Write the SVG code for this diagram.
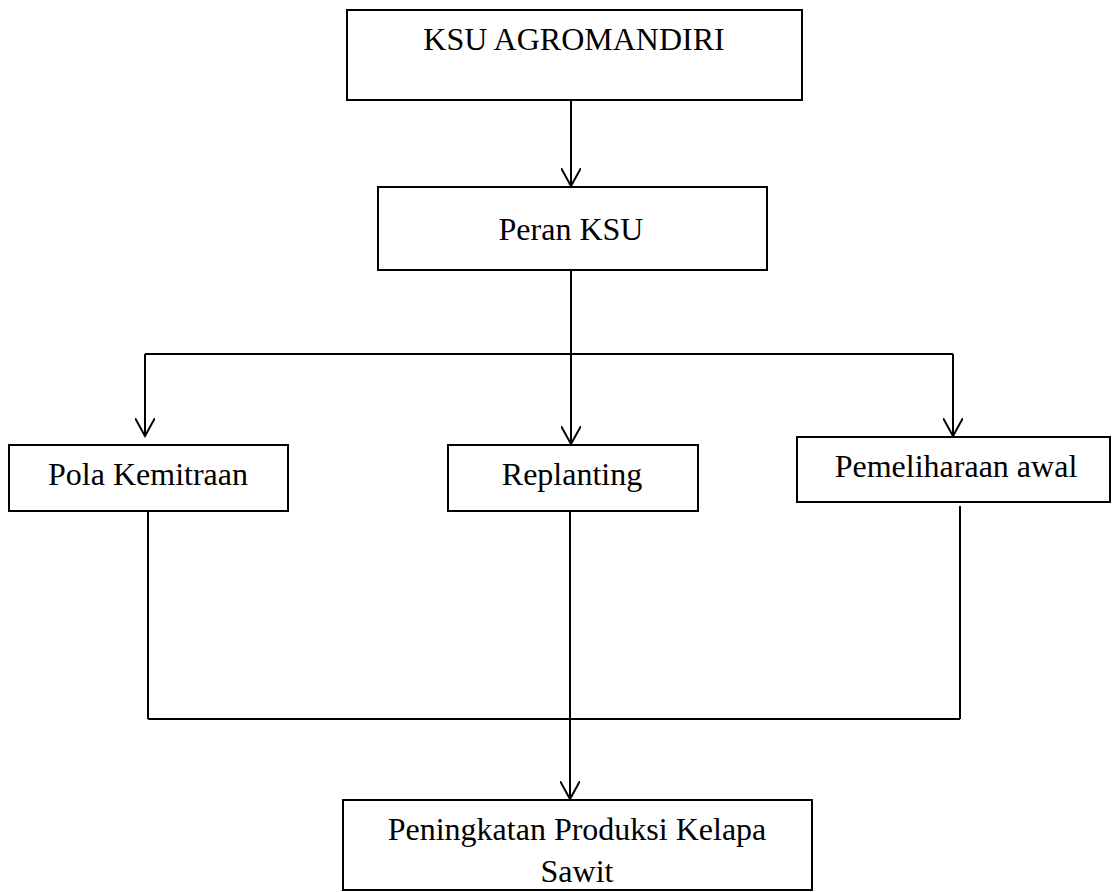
<svg xmlns="http://www.w3.org/2000/svg" width="1112" height="892" viewBox="0 0 1112 892">
<defs>
<style>
.box{fill:#fff;stroke:#000;stroke-width:2}
.lbl{font-family:"Liberation Serif","Times New Roman",serif;font-size:32px;fill:#000;text-anchor:middle}
.ln{fill:none;stroke:#000;stroke-width:2}
</style>
<marker id="arr" viewBox="0 0 20 20" refX="18" refY="10" markerWidth="20" markerHeight="20" markerUnits="userSpaceOnUse" orient="auto">
<path d="M0,0 L18,10 L0,20" fill="none" stroke="#000" stroke-width="2"/>
</marker>
</defs>
<rect width="1112" height="892" fill="#fff"/>
<g id="connectors">
<line class="ln" x1="571" y1="100" x2="571" y2="186" marker-end="url(#arr)"/>
<line class="ln" x1="571" y1="270" x2="571" y2="354"/>
<line class="ln" x1="145" y1="354" x2="953" y2="354"/>
<line class="ln" x1="145" y1="354" x2="145" y2="436" marker-end="url(#arr)"/>
<line class="ln" x1="571" y1="354" x2="571" y2="444" marker-end="url(#arr)"/>
<line class="ln" x1="953" y1="354" x2="953" y2="436" marker-end="url(#arr)"/>
<line class="ln" x1="148" y1="511" x2="148" y2="719"/>
<line class="ln" x1="960" y1="506" x2="960" y2="719"/>
<line class="ln" x1="148" y1="719" x2="960" y2="719"/>
<line class="ln" x1="570" y1="511" x2="570" y2="799" marker-end="url(#arr)"/>
</g>
<g id="node-ksu">
<rect class="box" x="347" y="10" width="455" height="90"/>
<text class="lbl" x="574" y="50">KSU AGROMANDIRI</text>
</g>
<g id="node-peran">
<rect class="box" x="378" y="187" width="389" height="83"/>
<text class="lbl" x="571" y="240">Peran KSU</text>
</g>
<g id="node-pola">
<rect class="box" x="9" y="445" width="279" height="66"/>
<text class="lbl" x="148" y="485">Pola Kemitraan</text>
</g>
<g id="node-replanting">
<rect class="box" x="448" y="445" width="250" height="66"/>
<text class="lbl" x="572" y="485">Replanting</text>
</g>
<g id="node-pemeliharaan">
<rect class="box" x="797" y="437" width="313" height="65"/>
<text class="lbl" x="956" y="477">Pemeliharaan awal</text>
</g>
<g id="node-peningkatan">
<rect class="box" x="343" y="800" width="469" height="90"/>
<text class="lbl" x="577" y="840">Peningkatan Produksi Kelapa</text>
<text class="lbl" x="577" y="882">Sawit</text>
</g>
</svg>
